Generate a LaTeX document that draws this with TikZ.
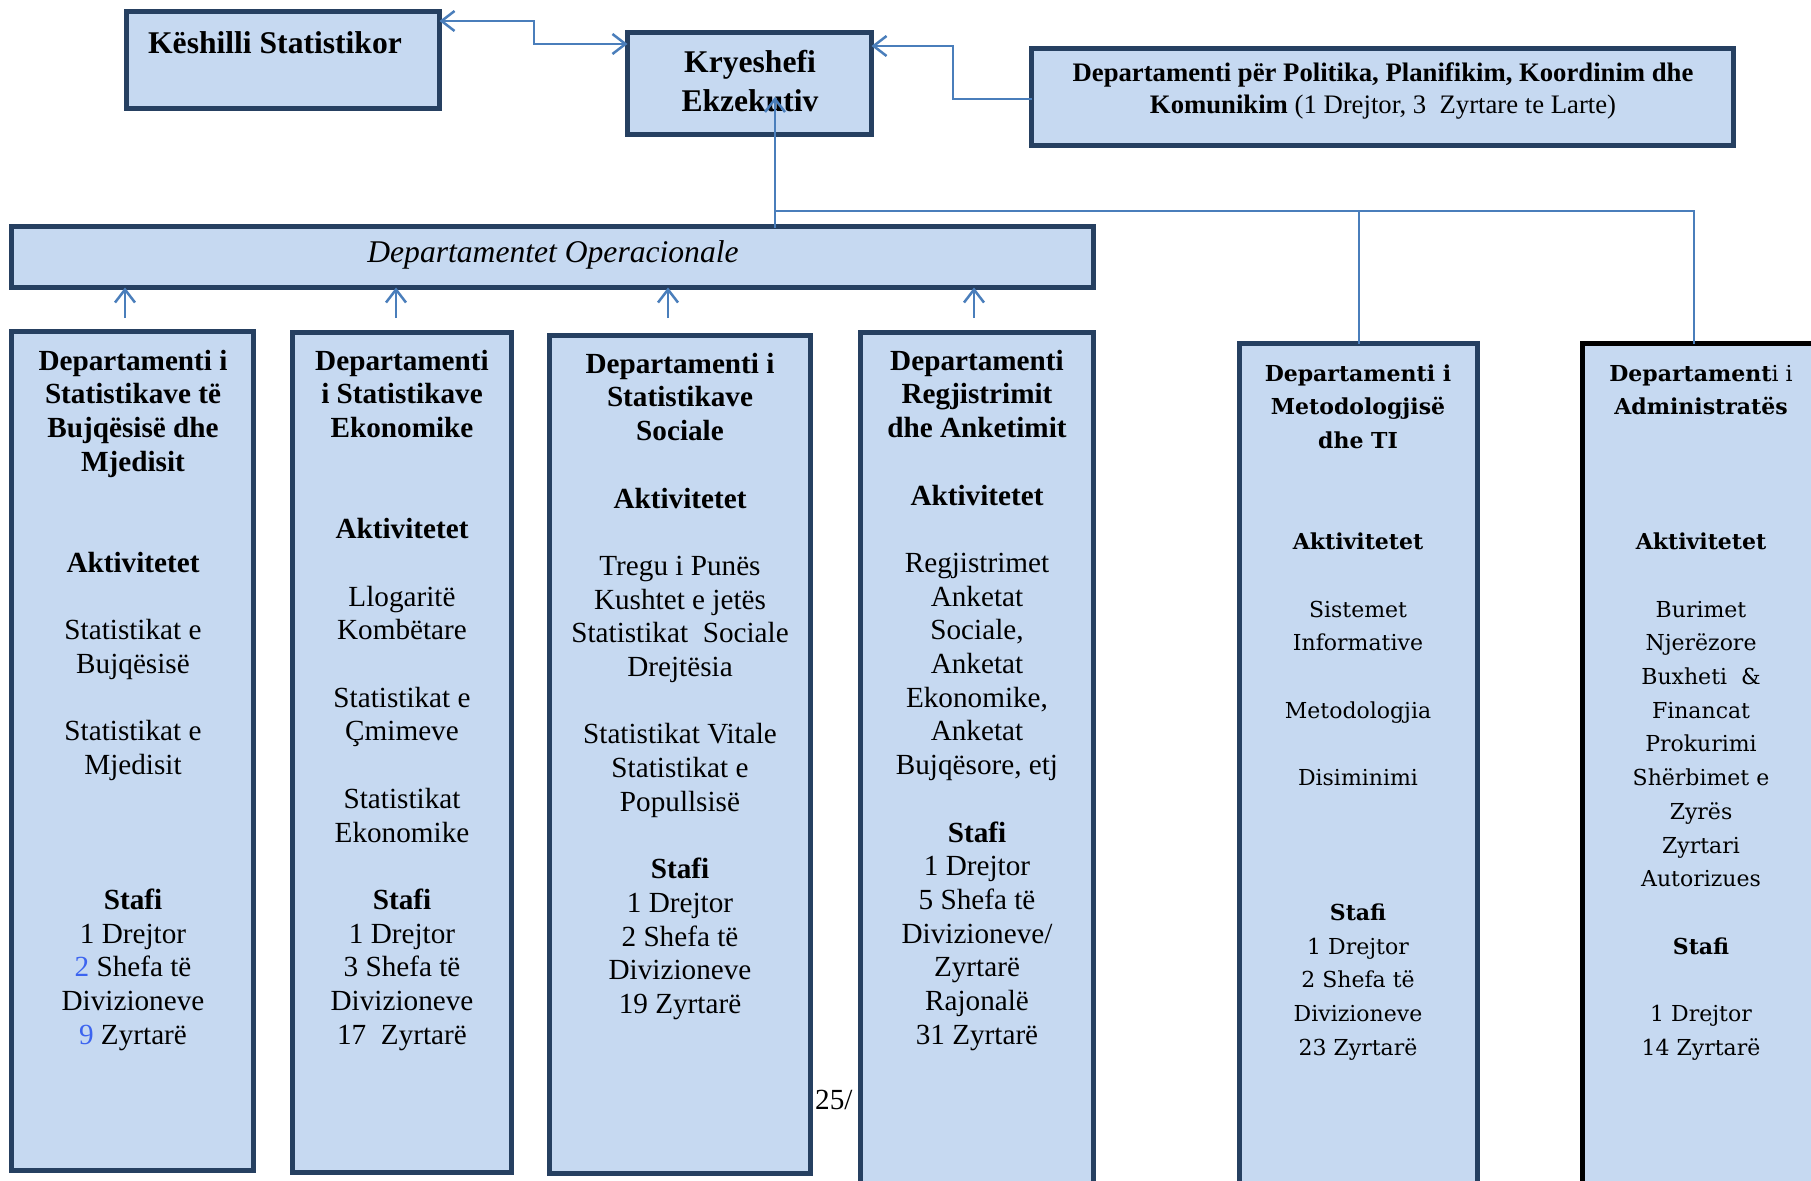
\documentclass[tikz,border=0pt]{standalone}
\usepackage{fontspec}
\setmainfont{Liberation Serif}
\newfontfamily\schfont{DejaVu Serif}
\usetikzlibrary{arrows.meta,calc}
\definecolor{boxfill}{RGB}{198,217,241}
\definecolor{navyb}{RGB}{38,64,97}
\definecolor{arrowblue}{RGB}{74,126,187}
\definecolor{digblue}{RGB}{60,100,240}
\newcommand{\fl}{\rule{0pt}{24pt}}
\begin{document}
\begin{tikzpicture}[x=1pt,y=-1pt,
  deptbox/.style={draw=navyb,line width=5pt,fill=boxfill,rectangle,inner sep=0pt,outer sep=0pt},
  blocktxt/.style={align=center,inner sep=0pt,anchor=north,font=\fontsize{29.2}{33.7}\selectfont},
  schtxt/.style={align=center,inner sep=0pt,anchor=north,font=\schfont\fontsize{22}{33.7}\selectfont},
  conn/.style={draw=arrowblue,line width=2.5pt},
  thinconn/.style={draw=arrowblue,line width=2pt},
  headend/.style={-{Straight Barb[length=13pt,width=20pt]}},
  headboth/.style={{Straight Barb[length=13pt,width=20pt]}-{Straight Barb[length=13pt,width=20pt]}}
]
\useasboundingbox (0,0) rectangle (1811,1180);
\clip (0,0) rectangle (1811,1180);

% top row
\node[deptbox,minimum width=313pt,minimum height=97pt] (kesh) at (283,60) {};
\node[font=\bfseries\fontsize{31.6}{39}\selectfont] (keshT) at (275,43) {Këshilli Statistikor};
\node[deptbox,minimum width=244pt,minimum height=102pt] (kry) at (749.5,83.5) {};
\node[align=center,font=\bfseries\fontsize{31.6}{39}\selectfont] (kryT) at (750,81) {Kryeshefi\\Ekzekutiv};
\node[deptbox,minimum width=702pt,minimum height=97pt] (pol) at (1382.5,97) {};
\node[align=center,font=\fontsize{26.7}{32}\selectfont] (polT) at (1383,91)
  {\textbf{Departamenti për Politika, Planifikim, Koordinim dhe}\\\textbf{Komunikim} (1 Drejtor, 3~ Zyrtare te Larte)};

% operational band
\node[deptbox,minimum width=1082pt,minimum height=61pt] (ops) at (552.5,257) {};
\node[font=\itshape\fontsize{31.6}{38}\selectfont] (opsT) at (553,255) {Departamentet Operacionale};

% page number (behind box 4)
\node[anchor=base west,inner sep=0pt,font=\fontsize{29.2}{33.7}\selectfont] (pg) at (815,1109) {25/};

% department boxes
\node[deptbox,minimum width=242pt,minimum height=839pt] (d1) at (132.5,751) {};
\node[deptbox,minimum width=219pt,minimum height=840pt] (d2) at (402,752.5) {};
\node[deptbox,minimum width=261pt,minimum height=838pt] (d3) at (680,754.5) {};
\node[deptbox,minimum width=233pt,minimum height=867.5pt] (d4) at (977,766.25) {};
\node[deptbox,minimum width=238pt,minimum height=856.5pt] (d5) at (1358.5,771.75) {};
\node[deptbox,draw=black,minimum width=238pt,minimum height=856.5pt] (d6) at (1701.5,771.75) {};

\node[blocktxt] (t1) at (133,346) {\fl\textbf{Departamenti i}\\\textbf{Statistikave të}\\\textbf{Bujqësisë dhe}\\\textbf{Mjedisit}\\[67.4pt]
  \textbf{Aktivitetet}\\[33.7pt]
  Statistikat e\\Bujqësisë\\[33.7pt]
  Statistikat e\\Mjedisit\\[101.1pt]
  \textbf{Stafi}\\1 Drejtor\\\textcolor{digblue}{2} Shefa të\\Divizioneve\\\textcolor{digblue}{9} Zyrtarë};

\node[blocktxt] (t2) at (402,346) {\fl\textbf{Departamenti}\\\textbf{i Statistikave}\\\textbf{Ekonomike}\\[67.4pt]
  \textbf{Aktivitetet}\\[33.7pt]
  Llogaritë\\Kombëtare\\[33.7pt]
  Statistikat e\\Çmimeve\\[33.7pt]
  Statistikat\\Ekonomike\\[33.7pt]
  \textbf{Stafi}\\1 Drejtor\\3 Shefa të\\Divizioneve\\17~ Zyrtarë};

\node[blocktxt] (t3) at (680,349) {\fl\textbf{Departamenti i}\\\textbf{Statistikave}\\\textbf{Sociale}\\[33.7pt]
  \textbf{Aktivitetet}\\[33.7pt]
  Tregu i Punës\\Kushtet e jetës\\Statistikat~ Sociale\\Drejtësia\\[33.7pt]
  Statistikat Vitale\\Statistikat e\\Popullsisë\\[33.7pt]
  \textbf{Stafi}\\1 Drejtor\\2 Shefa të\\Divizioneve\\19 Zyrtarë};

\node[blocktxt] (t4) at (977,346) {\fl\textbf{Departamenti}\\\textbf{Regjistrimit}\\\textbf{dhe Anketimit}\\[33.7pt]
  \textbf{Aktivitetet}\\[33.7pt]
  Regjistrimet\\Anketat\\Sociale,\\Anketat\\Ekonomike,\\Anketat\\Bujqësore, etj\\[33.7pt]
  \textbf{Stafi}\\1 Drejtor\\5 Shefa të\\Divizioneve/\\Zyrtarë\\Rajonalë\\31 Zyrtarë};

\node[schtxt] (t5) at (1358,357) {\fl\textbf{Departamenti i}\\\textbf{Metodologjisë}\\\textbf{dhe TI}\\[67.4pt]
  \textbf{Aktivitetet}\\[33.7pt]
  Sistemet\\Informative\\[33.7pt]
  Metodologjia\\[33.7pt]
  Disiminimi\\[101.1pt]
  \textbf{Stafi}\\1 Drejtor\\2 Shefa të\\Divizioneve\\23 Zyrtarë};

\node[schtxt] (t6) at (1701,357) {\fl\textbf{Departament}i i\\\textbf{Administratës}\\[101.1pt]
  \textbf{Aktivitetet}\\[33.7pt]
  Burimet\\Njerëzore\\Buxheti~ \&\\Financat\\Prokurimi\\Shërbimet e\\Zyrës\\Zyrtari\\Autorizues\\[33.7pt]
  \textbf{Stafi}\\[33.7pt]
  1 Drejtor\\14 Zyrtarë};

% connectors at the top
\coordinate (k1) at (534,21);
\coordinate (k2) at (534,44);
\draw[conn,headboth] (kesh.east |- k1) -- (k1) -- (k2) -- (kry.west |- k2);
\coordinate (p1) at (953,99);
\coordinate (p2) at (953,46);
\draw[conn,headend] (pol.west |- p1) -- (p1) -- (p2) -- (kry.east |- p2);

% main vertical connector
\coordinate (v0) at (775,228);
\coordinate (vtop) at (775,97);
\coordinate (j) at (775,211);
\draw[conn,headend] (v0) -- (vtop);
\coordinate (b6) at (1694,343.5);
\draw[thinconn] (j) -- (j -| b6) -- (b6);
\draw[thinconn] (j -| d5.north) -- (d5.north);

% arrows from operational departments
\foreach \n/\x in {1/125,2/396,3/668,4/974}{
  \coordinate (a\n) at (\x,318);
  \draw[conn,headend] (a\n) -- (a\n |- ops.south);
}
\end{tikzpicture}
\end{document}
